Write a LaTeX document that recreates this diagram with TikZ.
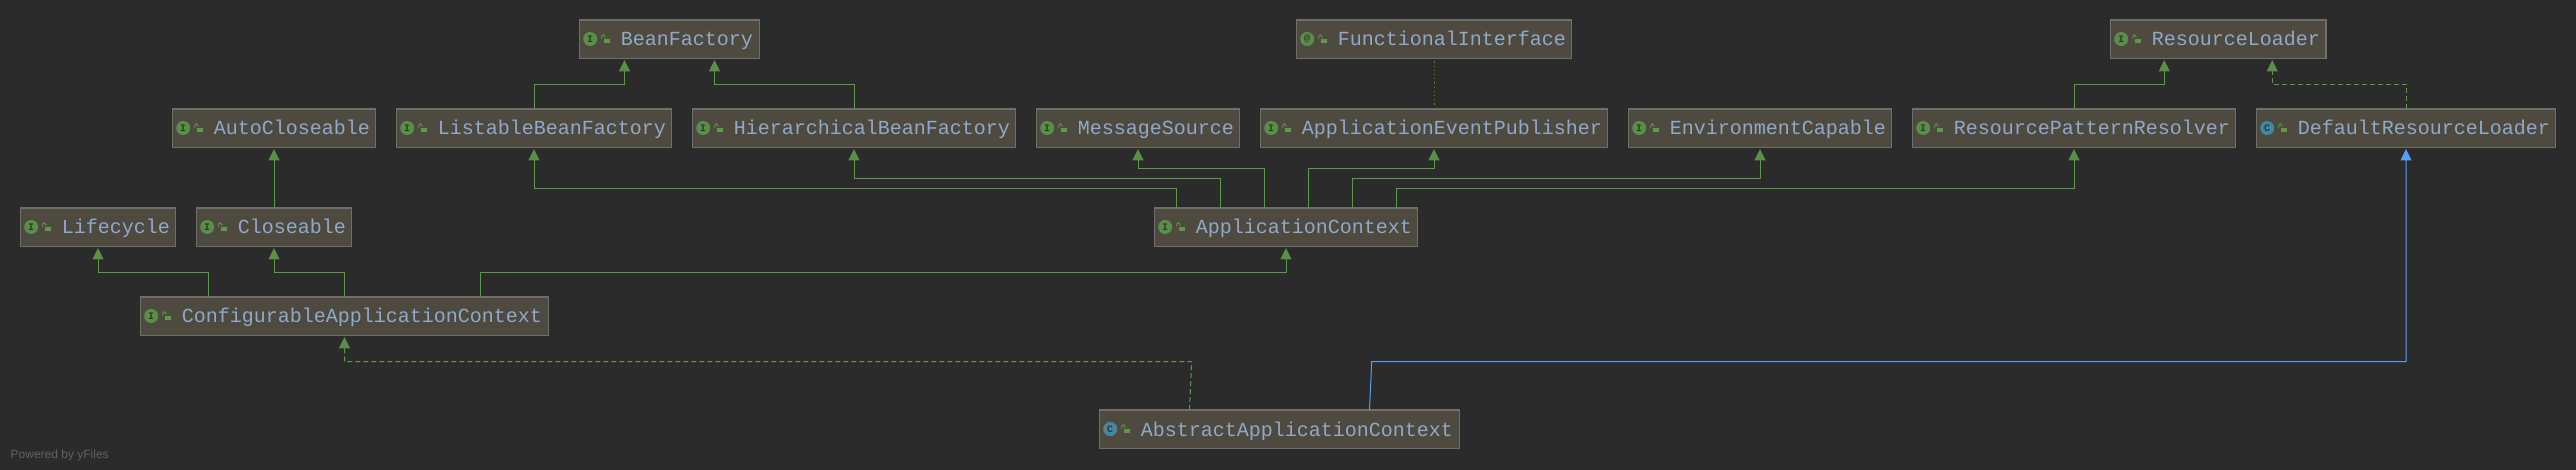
\documentclass[tikz,border=0pt]{standalone}
\usepackage{fontspec}
\usetikzlibrary{arrows.meta}
\newfontfamily\diagfont{Liberation Mono}
\newfontfamily\notefont{Liberation Sans}
\definecolor{canvasbg}{HTML}{2B2B2B}
\definecolor{boxfill}{HTML}{4E4A40}
\definecolor{boxline}{HTML}{6E6E6A}
\definecolor{nametext}{HTML}{8FA9C8}
\definecolor{inhgreen}{HTML}{5C9A48}
\definecolor{tipgreen}{HTML}{5A8F4A}
\definecolor{extblue}{HTML}{589DF0}
\definecolor{iconblue}{HTML}{3F88A6}
\definecolor{icongrey}{HTML}{6F7B80}
\definecolor{icondark}{HTML}{2F3A28}
\definecolor{dotolive}{HTML}{6F7F1E}
\definecolor{notegrey}{HTML}{626262}
\tikzset{
  classbox/.style={draw=boxline,fill=boxfill,line width=1.1pt,anchor=north west,
    inner xsep=0pt,inner ysep=0pt,outer sep=0pt,minimum height=38.5pt,
    text height=16pt,text depth=2.5pt,text=nametext,
    font=\diagfont\fontsize{20}{24}\selectfont},
  iconletter/.style={inner sep=0pt,outer sep=0pt,text=icondark,
    font=\diagfont\bfseries\fontsize{10}{10}\selectfont},
  inh/.style={draw=inhgreen,line width=1pt,shorten >=1.5pt,xshift=0.45pt,
    -{Triangle[width=11pt,length=11.5pt,color=tipgreen]}},
  impl/.style={inh,dash pattern=on 5pt off 3pt},
  ext/.style={inh,draw=extblue,
    -{Triangle[width=11pt,length=11.5pt,color=extblue]}},
  assoc/.style={draw=dotolive,line width=0.8pt,xshift=0.45pt,dash pattern=on 1.2pt off 3pt},
}
% name, left, top, width, text, icon letter, icon colour
\newcommand{\umlclass}[7]{%
  \node[classbox,minimum width=#4pt,text width=#4pt] (#1) at (#2,#3) {\hspace*{41.4pt}#5};
  \draw[boxline,line width=1.8pt] (#1.south west) -- (#1.south east);
  \fill[#7] ([shift={(10.7pt,-19pt)}]#1.north west) circle[radius=7pt];
  \node[iconletter] (#1-icon) at ([shift={(10.7pt,-19pt)}]#1.north west) {#6};
  \fill[inhgreen] ([shift={(24pt,-18.7pt)}]#1.north west) rectangle ([shift={(30pt,-22.9pt)}]#1.north west);
  \draw[inhgreen,line width=0.9pt] ([shift={(22.2pt,-19pt)}]#1.north west) -- ++(0pt,2.6pt)
     arc[start angle=180,end angle=0,radius=1.6pt] -- ++(0pt,-1.2pt);
}
\begin{document}
\begin{tikzpicture}[x=1pt,y=-1pt]
\useasboundingbox (0,0) rectangle (2576,470);
\fill[canvasbg] (0,0) rectangle (2576,470);
% top row
\umlclass{bf}{579.5}{20}{180}{BeanFactory}{I}{tipgreen}
\umlclass{fi}{1296.5}{20}{275}{FunctionalInterface}{@}{tipgreen}
\umlclass{rl}{2110.5}{20}{215.5}{ResourceLoader}{I}{tipgreen}
% second row
\umlclass{ac}{172.5}{109}{203}{AutoCloseable}{I}{tipgreen}
\umlclass{lbf}{396.5}{109}{275}{ListableBeanFactory}{I}{tipgreen}
\umlclass{hbf}{692.5}{109}{323}{HierarchicalBeanFactory}{I}{tipgreen}
\umlclass{ms}{1036.5}{109}{203}{MessageSource}{I}{tipgreen}
\umlclass{aep}{1260.5}{109}{347}{ApplicationEventPublisher}{I}{tipgreen}
\umlclass{ec}{1628.5}{109}{263}{EnvironmentCapable}{I}{tipgreen}
\umlclass{rpr}{1912.5}{109}{323}{ResourcePatternResolver}{I}{tipgreen}
\umlclass{drl}{2256.5}{109}{299}{DefaultResourceLoader}{C}{iconblue}
% third row
\umlclass{lc}{20.5}{208}{155}{Lifecycle}{I}{tipgreen}
\umlclass{cl}{196.5}{208}{155}{Closeable}{I}{tipgreen}
\umlclass{actx}{1154.5}{208}{263}{ApplicationContext}{I}{tipgreen}
% fourth row
\umlclass{cac}{140.5}{297}{408}{ConfigurableApplicationContext}{I}{tipgreen}
% bottom row
\umlclass{aac}{1099.5}{410}{360}{AbstractApplicationContext}{C}{icongrey}
\begin{scope}
  \clip ([shift={(10.7pt,-19pt)}]aac.north west) circle[radius=7pt];
  \fill[iconblue] ([shift={(6.2pt,-10pt)}]aac.north west) rectangle ([shift={(15.2pt,-28pt)}]aac.north west);
\end{scope}
\node[iconletter] (aac-mark) at ([shift={(10.7pt,-19pt)}]aac.north west) {C};
% inheritance edges
\draw[inh] (lbf.north) -- ++(0,-24.5) -| ([xshift=-45pt]bf.south);
\draw[inh] (hbf.north) -- ++(0,-24.5) -| ([xshift=45pt]bf.south);
\draw[inh] (rpr.north) -- ++(0,-24.5) -| ([xshift=-54pt]rl.south);
\draw[impl] (drl.north) -- ++(0,-24.5) -| ([xshift=54pt]rl.south);
\draw[assoc] ([yshift=-3pt]fi.south) -- ([yshift=2pt]aep.north);
\draw[inh] (cl.north) -- (ac.south);
\draw[inh] ([xshift=-110pt]actx.north) -- ++(0,-19.5) -| (lbf.south);
\draw[inh] ([xshift=-66pt]actx.north) -- ++(0,-29.5) -| (hbf.south);
\draw[inh] ([xshift=-22pt]actx.north) -- ++(0,-39.5) -| (ms.south);
\draw[inh] ([xshift=22pt]actx.north) -- ++(0,-39.5) -| (aep.south);
\draw[inh] ([xshift=66pt]actx.north) -- ++(0,-29.5) -| (ec.south);
\draw[inh] ([xshift=110pt]actx.north) -- ++(0,-19.5) -| (rpr.south);
\draw[inh] ([xshift=-136pt]cac.north) -- ++(0,-24.5) -| (lc.south);
\draw[inh] (cac.north) -- ++(0,-24.5) -| (cl.south);
\draw[inh] ([xshift=136pt]cac.north) -- ++(0,-24.5) -| (actx.south);
\draw[impl] ([xshift=-90pt]aac.north) -- ++(2.2,-48.5) -| (cac.south);
\draw[ext] ([xshift=90pt]aac.north) -- ++(2.2,-48.5) -| (drl.south);
% footer
\node[anchor=base west,inner sep=0pt,text=notegrey,font=\notefont\fontsize{12}{14}\selectfont] (yf) at (10.5,458) {Powered by yFiles};
\end{tikzpicture}
\end{document}
